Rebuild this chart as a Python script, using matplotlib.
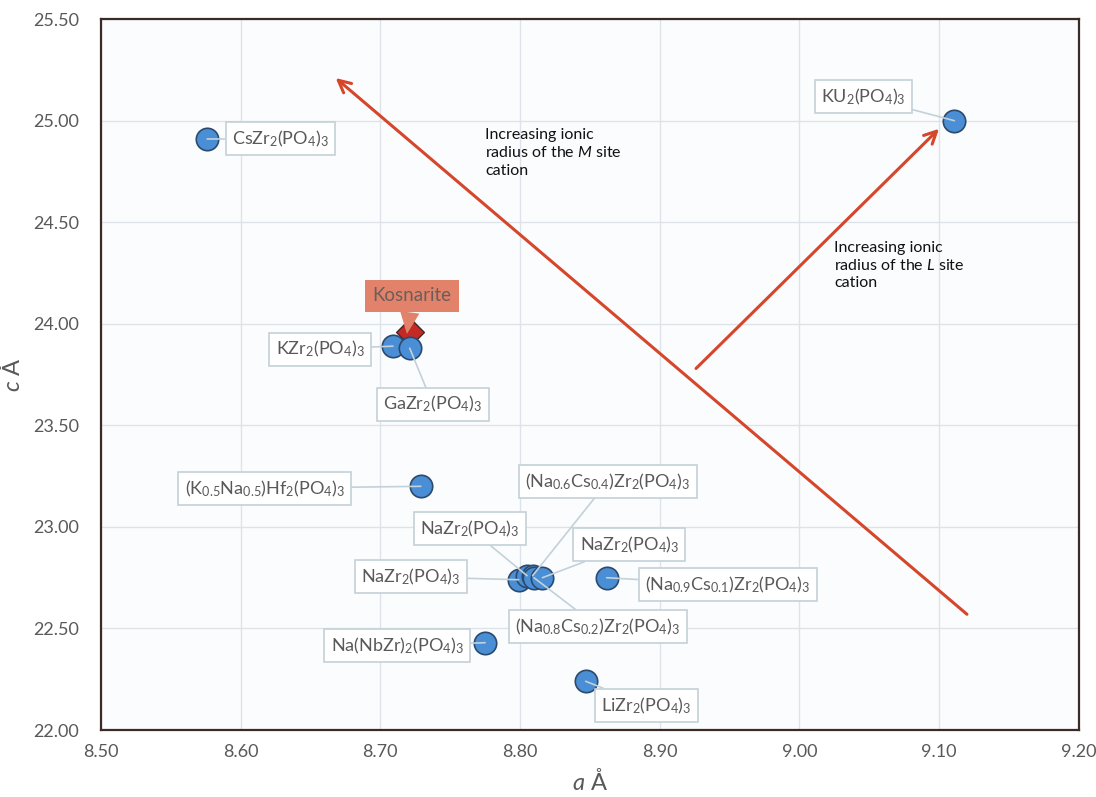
import numpy as np
import matplotlib
matplotlib.use("Agg")
import matplotlib.pyplot as plt

plt.rcParams['font.family'] = ['Lato', 'DejaVu Sans']
plt.rcParams['mathtext.fontset'] = 'custom'
plt.rcParams['mathtext.rm'] = 'Lato'
plt.rcParams['mathtext.it'] = 'Lato:italic'
plt.rcParams['mathtext.bf'] = 'Lato:bold'

# lattice parameters of the NZP-type phases (a, c in Angstrom)
names = [
    r'CsZr$_2$(PO$_4$)$_3$',
    r'KU$_2$(PO$_4$)$_3$',
    r'KZr$_2$(PO$_4$)$_3$',
    r'GaZr$_2$(PO$_4$)$_3$',
    r'(K$_{0.5}$Na$_{0.5}$)Hf$_2$(PO$_4$)$_3$',
    r'NaZr$_2$(PO$_4$)$_3$',
    r'NaZr$_2$(PO$_4$)$_3$',
    r'(Na$_{0.6}$Cs$_{0.4}$)Zr$_2$(PO$_4$)$_3$',
    r'(Na$_{0.8}$Cs$_{0.2}$)Zr$_2$(PO$_4$)$_3$',
    r'NaZr$_2$(PO$_4$)$_3$',
    r'(Na$_{0.9}$Cs$_{0.1}$)Zr$_2$(PO$_4$)$_3$',
    r'Na(NbZr)$_2$(PO$_4$)$_3$',
    r'LiZr$_2$(PO$_4$)$_3$',
]
a_vals = [8.576, 9.111, 8.709, 8.721, 8.729, 8.799, 8.805, 8.809, 8.810, 8.816, 8.862, 8.775, 8.847]
c_vals = [24.91, 25.00, 23.89, 23.88, 23.20, 22.74, 22.76, 22.76, 22.75, 22.75, 22.75, 22.43, 22.24]

# label box offsets from each point, in pixels
label_dx = [73, -91, -73, 23, -156, -108, -57, 75, 64, 87, 121, -88, 61]
label_dy = [0, 24, -3, -56, -2, 3, 47, 94, -49, 33, -7, -3, -24]

kos_a, kos_c = 8.721, 23.96

# trend arrows (tail -> head) in data coordinates
arrow_M = ((9.120, 22.57), (8.668, 25.21))
arrow_L = ((8.926, 23.78), (9.100, 24.96))

fig = plt.figure(figsize=(10.96, 7.97), dpi=100)
ax = fig.add_axes([0.0922, 0.084, 0.892, 0.892])
ax.set_facecolor('#fbfcfe')

ax.set_xlim(8.50, 9.20)
ax.set_ylim(22.00, 25.50)
ax.set_xticks(np.arange(8.50, 9.201, 0.10))
ax.set_yticks(np.arange(22.00, 25.501, 0.50))
ax.xaxis.set_major_formatter(matplotlib.ticker.FormatStrFormatter('%.2f'))
ax.yaxis.set_major_formatter(matplotlib.ticker.FormatStrFormatter('%.2f'))
ax.tick_params(length=0, labelsize=13, labelcolor='#595959')
ax.tick_params(axis='y', pad=16)
ax.tick_params(axis='x', pad=10)
ax.grid(True, color='#dde3e8', lw=1.0)
ax.set_axisbelow(True)
for sp in ax.spines.values():
    sp.set_color('#3a2b27')
    sp.set_linewidth(1.6)

ax.set_xlabel(r'$a$ Å', fontsize=17, color='#595959', labelpad=6)
ax.set_ylabel(r'$c$ Å', fontsize=17, color='#595959', labelpad=6)

red = '#d5462a'
for tail, head in (arrow_M, arrow_L):
    ax.annotate('', xy=head, xytext=tail,
                arrowprops=dict(arrowstyle='->', lw=2.2, color=red,
                                mutation_scale=22, shrinkA=0, shrinkB=0))

ax.text(8.775, 24.965, 'Increasing ionic\nradius of the $M$ site\ncation',
        fontsize=11.5, va='top', ha='left', linespacing=1.3, color='#111111')
ax.text(9.025, 24.41, 'Increasing ionic\nradius of the $L$ site\ncation',
        fontsize=11.5, va='top', ha='left', linespacing=1.3, color='#111111')

# kosnarite marker and its callout
ax.scatter([kos_a], [kos_c], marker='D', s=200, color='#c22a26',
           edgecolor='#3d2a2a', lw=1.0, zorder=3)
ax.annotate('Kosnarite', xy=(kos_a - 0.002, kos_c - 0.01), xytext=(5, 38),
            textcoords='offset pixels', ha='center', va='center',
            fontsize=13.5, color='#6b5e5a', zorder=6,
            bbox=dict(boxstyle='square,pad=0.42', fc='#e2826b', ec='none'),
            arrowprops=dict(arrowstyle='wedge,tail_width=0.7', fc='#e2826b',
                            ec='none', shrinkA=0, shrinkB=0,
                            mutation_scale=20))

ax.scatter(a_vals, c_vals, s=260, color='#4a8fd6', edgecolor='#2b4a6e',
           lw=1.2, zorder=4)

for name, a, c, dx, dy in zip(names, a_vals, c_vals, label_dx, label_dy):
    ax.annotate(name, xy=(a, c), xytext=(dx, dy), textcoords='offset pixels',
                ha='center', va='center', fontsize=13, color='#595959',
                zorder=5,
                bbox=dict(boxstyle='square,pad=0.35', fc='white',
                          ec='#c3d1d8', lw=1.2),
                arrowprops=dict(arrowstyle='-', color='#c3d1d8', lw=1.2,
                                shrinkA=0, shrinkB=0))

fig.savefig('out.png', dpi=100)
